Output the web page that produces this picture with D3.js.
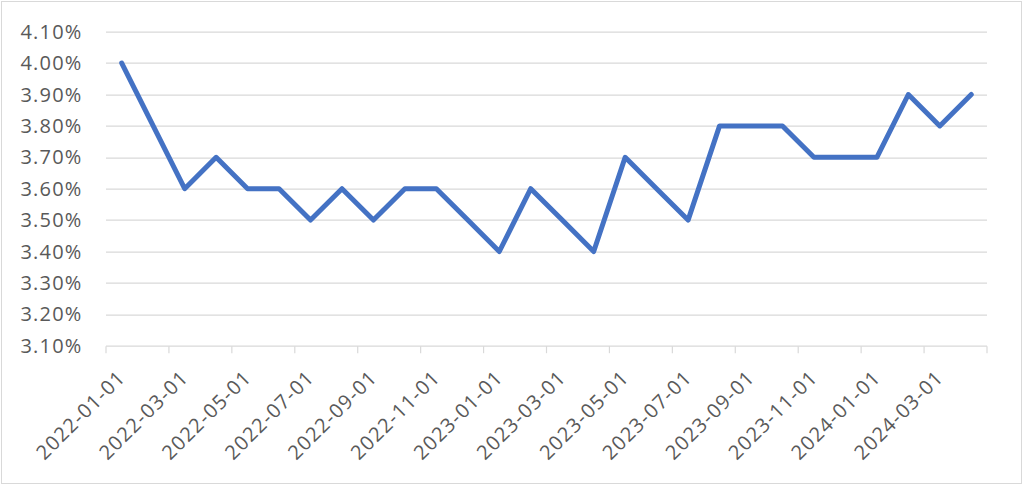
<!DOCTYPE html>
<html>
<head>
<meta charset="utf-8">
<script src="https://cdn.jsdelivr.net/npm/d3@7"></script>
<style>
  html, body { margin: 0; padding: 0; background: #fff; }
  svg { display: block; }
  text { font-family: "Open Sans", "Noto Sans", sans-serif; fill: #595959; }
</style>
</head>
<body>
<svg id="chart" width="1024" height="487"></svg>
<script>
const categories = [
  "2022-01-01","2022-02-01","2022-03-01","2022-04-01","2022-05-01","2022-06-01",
  "2022-07-01","2022-08-01","2022-09-01","2022-10-01","2022-11-01","2022-12-01",
  "2023-01-01","2023-02-01","2023-03-01","2023-04-01","2023-05-01","2023-06-01",
  "2023-07-01","2023-08-01","2023-09-01","2023-10-01","2023-11-01","2023-12-01",
  "2024-01-01","2024-02-01","2024-03-01","2024-04-01"
];
const values = [
  4.0, 3.8, 3.6, 3.7, 3.6, 3.6,
  3.5, 3.6, 3.5, 3.6, 3.6, 3.5,
  3.4, 3.6, 3.5, 3.4, 3.7, 3.6,
  3.5, 3.8, 3.8, 3.8, 3.7, 3.7,
  3.7, 3.9, 3.8, 3.9
];
const yTicks = [3.1, 3.2, 3.3, 3.4, 3.5, 3.6, 3.7, 3.8, 3.9, 4.0, 4.1];
const xTickLabels = categories.filter((d, i) => i % 2 === 0);

const svg = d3.select("#chart");
const W = 1024, H = 487;
const margin = { left: 106, right: 37, top: 31.7, bottom: 141.3 };
const plotW = W - margin.left - margin.right;
const plotH = H - margin.top - margin.bottom;

// outer border
svg.append("rect").attr("x", 1.5).attr("y", 1.5).attr("width", 1020).attr("height", 482)
  .attr("fill", "#fff").attr("stroke", "#d9d9d9").attr("stroke-width", 1);

const g = svg.append("g").attr("transform", `translate(${margin.left},${margin.top})`);

const x = d3.scaleBand().domain(categories).range([0, plotW]).padding(0);
const y = d3.scaleLinear().domain([3.1, 4.1]).range([plotH, 0]);

// gridlines
g.append("g").selectAll("line").data(yTicks.filter(d => d > 3.1 + 1e-9)).join("line")
  .attr("x1", 0).attr("x2", plotW)
  .attr("y1", d => Math.round(y(d)) + 0.5).attr("y2", d => Math.round(y(d)) + 0.5)
  .attr("stroke", "#d9d9d9").attr("stroke-width", 1.2);

// y labels
g.append("g").selectAll("text").data(yTicks).join("text")
  .attr("x", -23.5).attr("y", d => y(d))
  .attr("dy", "0.36em")
  .attr("text-anchor", "end")
  .style("font-size", "20px")
  .style("letter-spacing", "1.2px")
  .text(d => d.toFixed(2) + "%");

// x axis line + ticks
const axisY = Math.round(plotH) + 0.5;
g.append("line").attr("x1", 0).attr("x2", plotW).attr("y1", axisY).attr("y2", axisY)
  .attr("stroke", "#d9d9d9").attr("stroke-width", 1.2);
const tickIdx = d3.range(0, categories.length + 1, 2);
g.append("g").selectAll("line").data(tickIdx).join("line")
  .attr("x1", i => (i < categories.length ? x(categories[i]) : plotW))
  .attr("x2", i => (i < categories.length ? x(categories[i]) : plotW))
  .attr("y1", axisY).attr("y2", axisY + 7)
  .attr("stroke", "#d9d9d9").attr("stroke-width", 1.2);

// x labels
g.append("g").selectAll("text").data(xTickLabels).join("text")
  .attr("transform", d => `translate(${x(d) + x.bandwidth() / 2 + 5},${plotH + 33}) rotate(-45)`)
  .attr("text-anchor", "end")
  .style("font-size", "20px")
  .style("letter-spacing", "1.2px")
  .text(d => d);

// line
const line = d3.line()
  .x((d, i) => x(categories[i]) + x.bandwidth() / 2)
  .y(d => y(d));
g.append("path").datum(values)
  .attr("d", line)
  .attr("fill", "none")
  .attr("stroke", "#4472c4")
  .attr("stroke-width", 5)
  .attr("stroke-linejoin", "round")
  .attr("stroke-linecap", "round");
</script>
</body>
</html>
